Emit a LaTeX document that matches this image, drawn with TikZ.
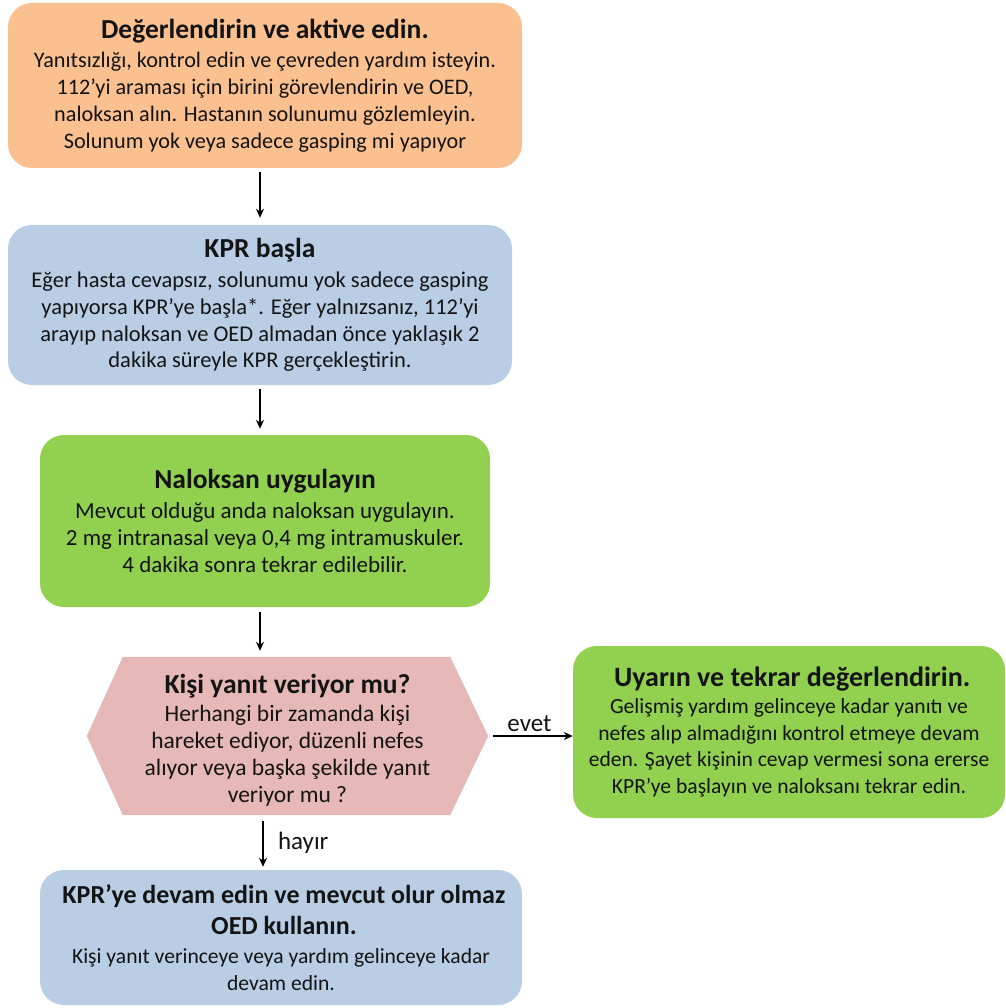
\documentclass[tikz,border=0pt]{standalone}
\usepackage{fontspec}
\setmainfont{Carlito}
\usetikzlibrary{arrows.meta,calc}
\definecolor{cOrange}{HTML}{FAC090}
\definecolor{cBlue}{HTML}{B9CDE5}
\definecolor{cGreen}{HTML}{92D050}
\definecolor{cPink}{HTML}{E6B9B8}
\definecolor{cText}{HTML}{141414}
\newcommand{\ttl}[1][27.5]{\fontsize{#1}{30}\selectfont\bfseries}
\newcommand{\bdyat}[1]{\fontsize{#1}{26.8}\selectfont\mdseries}
\newcommand{\lblfont}{\fontsize{25}{28}\selectfont}
\tikzset{
  box/.style={rounded corners=24pt, align=center, text=cText, inner sep=0pt},
  arr/.style={-{Stealth[length=9pt,width=8pt]}, line width=1.4pt, black},
  lbl/.style={text=cText, font=\lblfont}
}
\begin{document}
\begin{tikzpicture}[x=1pt,y=-1pt]
\useasboundingbox (0,0) rectangle (1005,1008);
\fill[white] (0,0) rectangle (1005,1008);

\node[box, fill=cOrange, minimum width=514pt, minimum height=165pt, font=\bdyat{22.2}] (n1) at (265,85.5)
 {{\ttl Değerlendirin ve aktive edin.}\\[3pt]
  Yanıtsızlığı, kontrol edin ve çevreden yardım isteyin.\\
  112’yi araması için birini görevlendirin ve OED,\\
  naloksan alın. Hastanın solunumu gözlemleyin.\\
  Solunum yok veya sadece gasping mi yapıyor};

\node[box, fill=cBlue, minimum width=504pt, minimum height=160pt, font=\bdyat{22.5}] (n2) at (260,305)
 {{\ttl KPR başla}\\[3pt]
  Eğer hasta cevapsız, solunumu yok sadece gasping\\
  yapıyorsa KPR’ye başla*. Eğer yalnızsanız, 112’yi\\
  arayıp naloksan ve OED almadan önce yaklaşık 2\\
  dakika süreyle KPR gerçekleştirin.};

\node[box, fill=cGreen, minimum width=450pt, minimum height=172pt, font=\bdyat{23}] (n3) at (265,521)
 {{\ttl Naloksan uygulayın}\\[3pt]
  Mevcut olduğu anda naloksan uygulayın.\\
  2 mg intranasal veya 0,4 mg intramuskuler.\\
  4 dakika sonra tekrar edilebilir.};

\node[minimum width=401pt, minimum height=158pt, inner sep=0pt] (q) at (287.5,736) {};
\fill[cPink] (q.west) -- ($(q.north west)+(36,0)$) -- ($(q.north east)+(-38,0)$) -- (q.east)
  -- ($(q.south east)+(-38,0)$) -- ($(q.south west)+(36,0)$) -- cycle;
\node[align=center, text=cText, inner sep=0pt, font=\bdyat{23.5}] (qt) at (287.5,740)
 {{\ttl Kişi yanıt veriyor mu?}\\[2pt]
  Herhangi bir zamanda kişi\\
  hareket ediyor, düzenli nefes\\
  alıyor veya başka şekilde yanıt\\
  veriyor mu ?};

\node[box, fill=cGreen, minimum width=432pt, minimum height=172pt, font=\bdyat{21.6}] (n4) at (789,732)
 {{\ttl[28] Uyarın ve tekrar değerlendirin.}\\[0pt]
  Gelişmiş yardım gelinceye kadar yanıtı ve\\
  nefes alıp almadığını kontrol etmeye devam\\
  eden. Şayet kişinin cevap vermesi sona ererse\\
  KPR’ye başlayın ve naloksanı tekrar edin.};

\node[box, fill=cBlue, minimum width=482pt, minimum height=135pt, font=\bdyat{21.6}] (n5) at (281,937.5)
 {{\ttl[26] KPR’ye devam edin ve mevcut olur olmaz}\\[5pt]
  {\ttl[26] OED kullanın.}\\[2pt]
  Kişi yanıt verinceye veya yardım gelinceye kadar\\
  devam edin.};

\draw[arr, shorten <=4pt, shorten >=7pt] (n1.south -| n2.south) -- (n2.north);
\draw[arr, shorten <=4pt, shorten >=6pt] (n2.south) -- (n3.north -| n2.south);
\draw[arr, shorten <=5pt, shorten >=6pt] (n3.south -| n2.south) -- (q.north -| n2.south);
\draw[arr, shorten <=6pt, shorten >=3pt] ([xshift=3pt]q.south -| n2.south) -- ([xshift=3pt]n5.north -| n2.south)
  node[lbl, midway, right=11pt] (hy) {hayır};
\draw[arr, shorten <=5pt, shorten >=0pt] (q.east) -- (q.east -| n4.west)
  node[lbl, midway, above=0pt, xshift=-1pt] (ev) {evet};
\end{tikzpicture}
\end{document}
